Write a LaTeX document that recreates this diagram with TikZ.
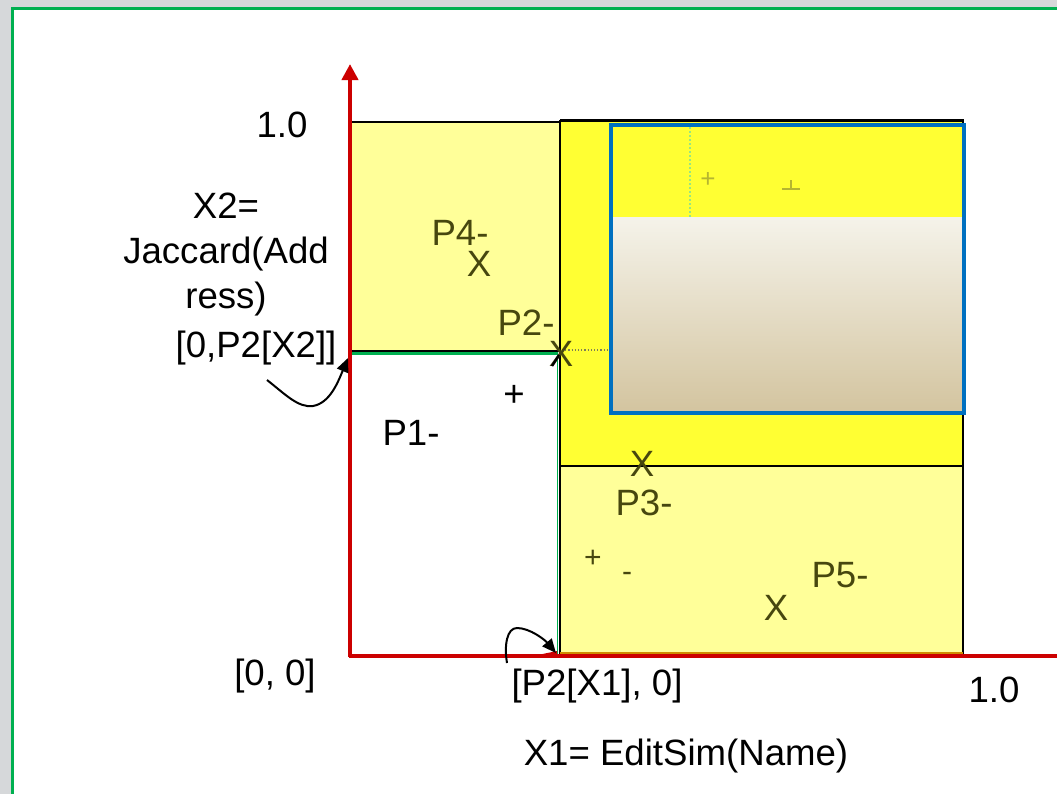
\documentclass[tikz,border=0pt]{standalone}
\usepackage{fontspec}
\setmainfont{Liberation Sans}
\usetikzlibrary{arrows.meta}
\definecolor{axisred}{HTML}{CC0000}
\definecolor{framegreen}{HTML}{00B050}
\definecolor{boxblue}{HTML}{0070C0}
\definecolor{brightyellow}{HTML}{FFFF33}
\definecolor{paleyellow}{HTML}{FFFF99}
\definecolor{olivetxt}{HTML}{47470F}
\definecolor{faintolive}{HTML}{B5B530}
\definecolor{shadetop}{HTML}{F5F3EA}
\definecolor{shadebot}{HTML}{D3C49F}
\definecolor{bggray}{HTML}{D6D8DA}
\definecolor{edgeorange}{HTML}{D08A00}
\begin{document}
\begin{tikzpicture}[x=0.5pt,y=-0.5pt,
  lbl/.style={inner sep=0pt,anchor=base,font=\fontsize{18.3}{21}\selectfont,text=black},
  olbl/.style={lbl,text=olivetxt},
  region/.style={draw=black,line width=1.1pt},
  curvearrow/.style={black,line width=1pt,-{Triangle[length=7pt,width=6pt]}}]
\useasboundingbox (0,0) rectangle (1057,794);
\clip (0,0) rectangle (1057,794);
% background and frame
\fill[bggray] (0,0) rectangle (1057,794);
\fill[white] (12,8) rectangle (1070,800);
\draw[framegreen,line width=1.5pt] (1070,8) -- (12,8) -- (12,800);
% yellow regions
\fill[paleyellow] (352,122) rectangle (560,352);
\fill[brightyellow] (560,120) rectangle (963,466);
\fill[paleyellow] (560,466) rectangle (963,656);
% blue box content
\fill[brightyellow] (611,125) rectangle (964,217);
\shade[top color=shadetop,bottom color=shadebot] (611,217) rectangle (964,413);
\draw[green!60!olive!50,line width=1pt,densely dotted] (690,127) -- (690,217);
\node[lbl,text=faintolive,font=\fontsize{13}{15}\selectfont] (fplus) at (708,187) {+};
\draw[faintolive,line width=0.6pt] (791,180) -- (791,189) (782,189) -- (800,189);
\draw[olivetxt!70,line width=0.6pt,densely dotted] (562,350) -- (610,350);
% region borders
\draw[black,line width=1pt] (352,122) -- (560,122);
\draw[black,line width=1.5pt] (560,120) -- (964,120);
\draw[region] (560,120) -- (560,656);
\draw[region] (963,120) -- (963,656);
\draw[region] (560,466) -- (963,466);
\draw[edgeorange,line width=1pt] (560,653) -- (963,653);
\draw[region] (560,655.5) -- (963,655.5);
\draw[black,line width=0.8pt] (352,351) -- (560,351);
\draw[framegreen,line width=1.5pt] (352,353.5) -- (558,353.5);
\draw[framegreen,line width=0.8pt] (557.5,356) -- (557.5,654);
% blue box
\draw[boxblue,line width=2pt] (611,125) rectangle (964,413);
% axes
\draw[axisred,line width=2pt] (349,656) -- (1060,656);
\draw[axisred,line width=2pt,-{Triangle[length=8pt,width=8pt]}] (350,657) -- (350,64);
\fill[axisred] (528,657) -- (557,651) -- (557,657) -- cycle;
% labels
\node[lbl] (ytop) at (282,137) {1.0};
\node[lbl] (x2a) at (226,218) {X2=};
\node[lbl] (x2b) at (226,263) {Jaccard(Add};
\node[lbl] (x2c) at (226,308) {ress)};
\node[lbl] (p2x2) at (256,357) {[0,P2[X2]]};
\node[olbl] (p4) at (460,245) {P4-};
\node[olbl] (p4x) at (479,276) {X};
\node[olbl] (p2) at (526,335) {P2-};
\node[olbl] (p2x) at (561,366) {X};
\draw[black,line width=1.2pt] (552,366) -- (559,355);
\node[lbl] (plus1) at (514,406) {+};
\node[lbl] (p1) at (411,445) {P1-};
\node[olbl] (p3x) at (642,476) {X};
\node[olbl] (p3) at (644,515) {P3-};
\node[olbl,font=\fontsize{15}{18}\selectfont] (plus2) at (593,567) {+};
\node[olbl,font=\fontsize{15}{18}\selectfont] (minus2) at (627,581) {-};
\node[olbl] (p5) at (840,587) {P5-};
\node[olbl] (p5x) at (776,620) {X};
\node[lbl] (origin) at (275,685) {[0, 0]};
\node[lbl] (p2x1) at (597,695) {[P2[X1], 0]};
\node[lbl] (xone) at (994,702) {1.0};
\node[lbl] (x1lbl) at (686,765) {X1= EditSim(Name)};
% curved pointers
\coordinate (a1s) at (267,380);
\coordinate (a1m) at (313,406);
\coordinate (a1t) at (348,358);
\draw[curvearrow] (a1s) .. controls (285,394) and (298,408) .. (a1m) .. controls (330,403) and (338,382) .. (a1t);
\coordinate (a2s) at (507,663);
\coordinate (a2m) at (517,628);
\coordinate (a2t) at (556,653);
\draw[curvearrow] (a2s) .. controls (504,645) and (507,628) .. (a2m) .. controls (530,628) and (545,640) .. (a2t);
\end{tikzpicture}
\end{document}
